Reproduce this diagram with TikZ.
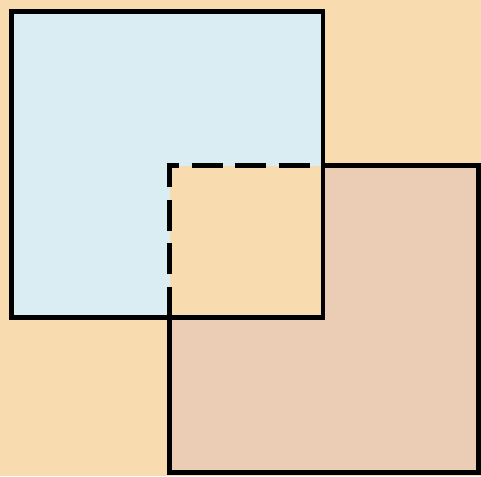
\documentclass[tikz,border=0pt]{standalone}
\usepackage{tikz}
\definecolor{bgwheat}{RGB}{248,220,176}
\definecolor{lightblue}{RGB}{218,237,242}
\definecolor{lightbrown}{RGB}{235,204,181}
\tikzset{
  edge/.style={line width=4.3pt, draw=black, line cap=butt, line join=miter},
  dashededge/.style={edge, dash pattern=on 31pt off 12.5pt}
}
\begin{document}
\begin{tikzpicture}[x=1pt,y=-1pt]
  \useasboundingbox (0,0) rectangle (481,476);
  \fill[bgwheat] (0,0) rectangle (481,476);
  % corners
  \coordinate (A1) at (11.5,11.5);
  \coordinate (A2) at (323,317.5);
  \coordinate (B1) at (169.5,165.5);
  \coordinate (B2) at (478.5,472.5);
  \coordinate (P) at (323,165.5);
  \coordinate (Q) at (169.5,317.5);
  % fills
  \fill[lightblue] (A1) rectangle (A2);
  \fill[lightbrown] (B1) rectangle (B2);
  \fill[bgwheat] (B1) rectangle (A2);
  % blue square border
  \draw[edge] (A1) rectangle (A2);
  % brown square border (outside part)
  \draw[edge] (P) -- (B2 |- P) -- (B2) -- (B2 -| Q) -- (Q);
  % brown square border (inside part, dashed)
  \draw[dashededge] (Q) -- (B1) -- (P);
\end{tikzpicture}
\end{document}
